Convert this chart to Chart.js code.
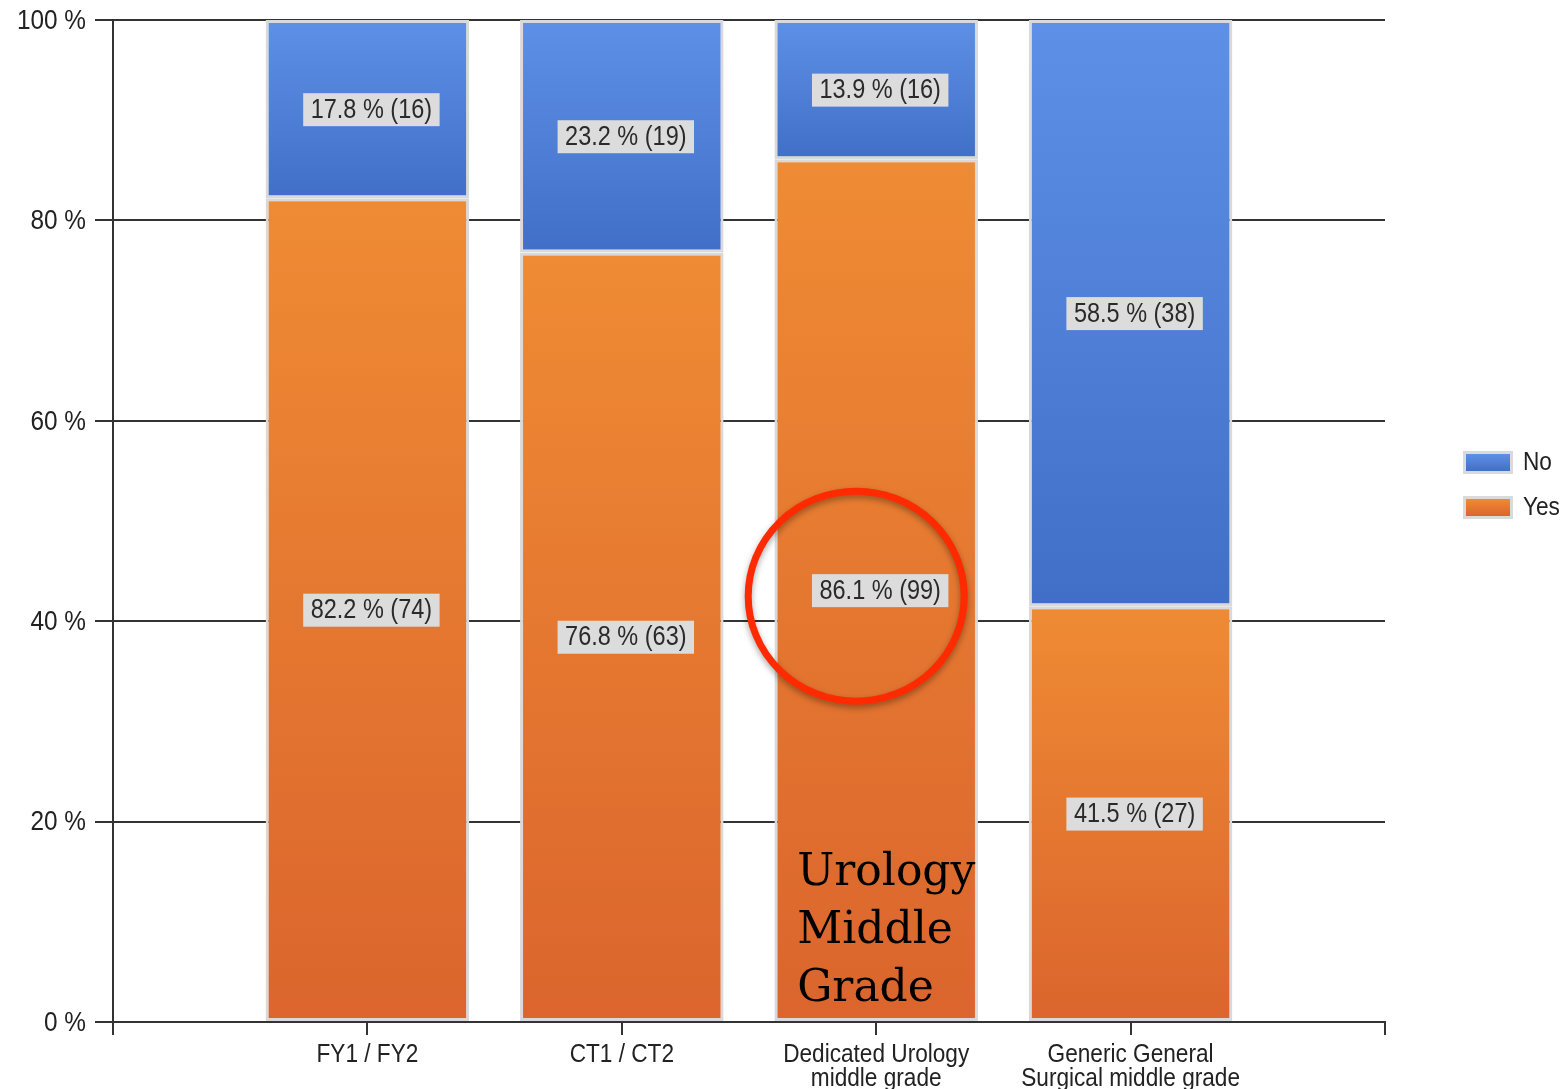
<!DOCTYPE html>
<html>
<head>
<meta charset="utf-8">
<script src="https://cdn.jsdelivr.net/npm/chart.js@4/dist/chart.umd.min.js"></script>
<style>
  body { margin: 0; background: #fff; }
  #wrap { width: 1568px; height: 1089px; position: relative; }
</style>
</head>
<body>
<div id="wrap"><canvas id="c"></canvas></div>
<script>
// data
const categories = ['FY1 / FY2', 'CT1 / CT2', ['Dedicated Urology', 'middle grade'], ['Generic General', 'Surgical middle grade']];
const yesPct = [82.2, 76.8, 86.1, 41.5];
const yesCount = [74, 63, 99, 27];
const noPct = [17.8, 23.2, 13.9, 58.5];
const noCount = [16, 19, 16, 38];
const seriesNames = ['Yes', 'No'];
const yTicks = [0, 20, 40, 60, 80, 100];

const FONT = '"Liberation Sans", Arial, sans-serif';
const SQUEEZE = 0.87; // the original text is tall and narrow
// top colour, bottom colour
const colours = [['#ef8b34', '#db652d'], ['#5e90e8', '#416fc7']];

// empty slot at each end so the bars sit on 1..4 of 0..5
const labels = [''].concat(categories, ['']);
const pad = arr => [null].concat(arr, [null]);

function narrowText(ctx, txt, x, y) {
  ctx.save();
  ctx.translate(x, y);
  ctx.scale(SQUEEZE, 1);
  ctx.fillText(txt, 0, 0);
  ctx.restore();
}

function segFill(c, ds) {
  const ch = c.chart, y = ch.scales.y;
  const i = c.dataIndex - 1;
  if (c.type !== 'data' || !ch.chartArea || !y || i < 0 || i >= yesPct.length) return colours[ds][0];
  const lo = ds === 0 ? 0 : yesPct[i];
  const hi = ds === 0 ? yesPct[i] : 100;
  const g = ch.ctx.createLinearGradient(0, y.getPixelForValue(hi), 0, y.getPixelForValue(lo));
  g.addColorStop(0, colours[ds][0]);
  g.addColorStop(1, colours[ds][1]);
  return g;
}

// axis labels drawn by hand so they can be squeezed like the original
const axisText = {
  id: 'axisText',
  afterDraw(chart) {
    const ctx = chart.ctx, x = chart.scales.x, y = chart.scales.y;
    ctx.save();
    ctx.fillStyle = '#222';
    ctx.font = '28px ' + FONT;
    ctx.textAlign = 'right';
    ctx.textBaseline = 'middle';
    yTicks.forEach(v => narrowText(ctx, v + ' %', y.right - 27, y.getPixelForValue(v) + 1));
    ctx.font = '26px ' + FONT;
    ctx.textAlign = 'center';
    ctx.textBaseline = 'top';
    categories.forEach((lab, i) => {
      const px = x.getPixelForValue(i + 1);
      [].concat(lab).forEach((line, k) => narrowText(ctx, line, px, x.top + 20 + k * 24));
    });
    ctx.restore();
  }
};

const valueLabels = {
  id: 'valueLabels',
  afterDatasetsDraw(chart) {
    const ctx = chart.ctx;
    ctx.save();
    ctx.font = '27px ' + FONT;
    ctx.textAlign = 'center';
    ctx.textBaseline = 'middle';
    [0, 1].forEach(ds => {
      chart.getDatasetMeta(ds).data.forEach((el, j) => {
        const i = j - 1;
        if (i < 0 || i >= yesPct.length) return;
        const pct = ds === 0 ? yesPct[i] : noPct[i];
        const cnt = ds === 0 ? yesCount[i] : noCount[i];
        const txt = pct.toFixed(1) + ' % (' + cnt + ')';
        const cx = el.x + 4, cy = (el.y + el.base) / 2;
        const w = ctx.measureText(txt).width * SQUEEZE + 15;
        ctx.fillStyle = '#dcdcdc';
        ctx.fillRect(cx - w / 2, cy - 16, w, 33);
        ctx.fillStyle = '#2a2a2a';
        narrowText(ctx, txt, cx, cy + 1);
      });
    });
    ctx.restore();
  }
};

const extras = {
  id: 'extras',
  afterDraw(chart) {
    const ctx = chart.ctx, x = chart.scales.x, y = chart.scales.y, area = chart.chartArea;
    ctx.save();
    // red ring round the urology figure
    const cx = x.getPixelForValue(3) - 20, cy = y.getPixelForValue(42.5);
    ctx.shadowColor = 'rgba(0,0,0,0.35)';
    ctx.shadowBlur = 6;
    ctx.shadowOffsetY = 3;
    ctx.strokeStyle = '#ff2a00';
    ctx.lineWidth = 7;
    ctx.beginPath();
    ctx.ellipse(cx, cy, 108, 105, 0, 0, Math.PI * 2);
    ctx.stroke();
    ctx.restore();

    ctx.save();
    ctx.fillStyle = '#000';
    ctx.font = '44px "DejaVu Serif", serif';
    ctx.textBaseline = 'alphabetic';
    const tx = x.getPixelForValue(3) - 79;
    ['Urology', 'Middle', 'Grade'].forEach((t, k) => ctx.fillText(t, tx, area.bottom - 137 + k * 58));
    ctx.restore();

    // legend on the right
    ctx.save();
    ctx.font = '26px ' + FONT;
    ctx.textBaseline = 'middle';
    const lx = area.right + 78, mid = (area.top + area.bottom) / 2;
    [1, 0].forEach((ds, k) => {
      const ly = mid - 59 + k * 45;
      ctx.fillStyle = '#dadada';
      ctx.fillRect(lx, ly - 11, 50, 23);
      const g = ctx.createLinearGradient(0, ly - 8, 0, ly + 9);
      g.addColorStop(0, colours[ds][0]);
      g.addColorStop(1, colours[ds][1]);
      ctx.fillStyle = g;
      ctx.fillRect(lx + 3, ly - 8, 44, 17);
      ctx.fillStyle = '#222';
      narrowText(ctx, seriesNames[ds], lx + 60, ly + 1);
    });
    ctx.restore();
  }
};

new Chart(document.getElementById('c'), {
  type: 'bar',
  data: {
    labels: labels,
    datasets: [
      {
        label: seriesNames[0],
        data: pad(yesPct),
        backgroundColor: c => segFill(c, 0),
        borderColor: '#d9d9d9',
        borderWidth: 3,
        borderSkipped: false
      },
      {
        label: seriesNames[1],
        data: pad(noPct),
        backgroundColor: c => segFill(c, 1),
        borderColor: '#d9d9d9',
        borderWidth: 3,
        borderSkipped: false
      }
    ]
  },
  options: {
    responsive: true,
    maintainAspectRatio: false,
    animation: false,
    layout: { padding: { top: 20, right: 183, bottom: 0, left: 0 } },
    datasets: { bar: { categoryPercentage: 1, barPercentage: 0.8 } },
    plugins: { legend: { display: false }, tooltip: { enabled: false } },
    scales: {
      x: {
        stacked: true,
        offset: false,
        grid: { offset: false, drawOnChartArea: false, drawTicks: true, tickLength: 13, color: '#333', lineWidth: 2 },
        border: { color: '#333', width: 2 },
        ticks: { color: 'rgba(0,0,0,0)', font: { family: FONT, size: 8 }, padding: 6, maxRotation: 0, autoSkip: false },
        afterFit: s => { s.height = 67; }
      },
      y: {
        stacked: true,
        min: 0,
        max: 100,
        afterBuildTicks: s => { s.ticks = yTicks.map(v => ({ value: v })); },
        grid: { color: '#333', lineWidth: 2, drawTicks: true, tickLength: 18 },
        border: { color: '#333', width: 2 },
        ticks: { color: 'rgba(0,0,0,0)', font: { family: FONT, size: 8 }, padding: 9, callback: v => v + ' %' },
        afterFit: s => { s.width = 113; }
      }
    }
  },
  plugins: [valueLabels, axisText, extras]
});
</script>
</body>
</html>
